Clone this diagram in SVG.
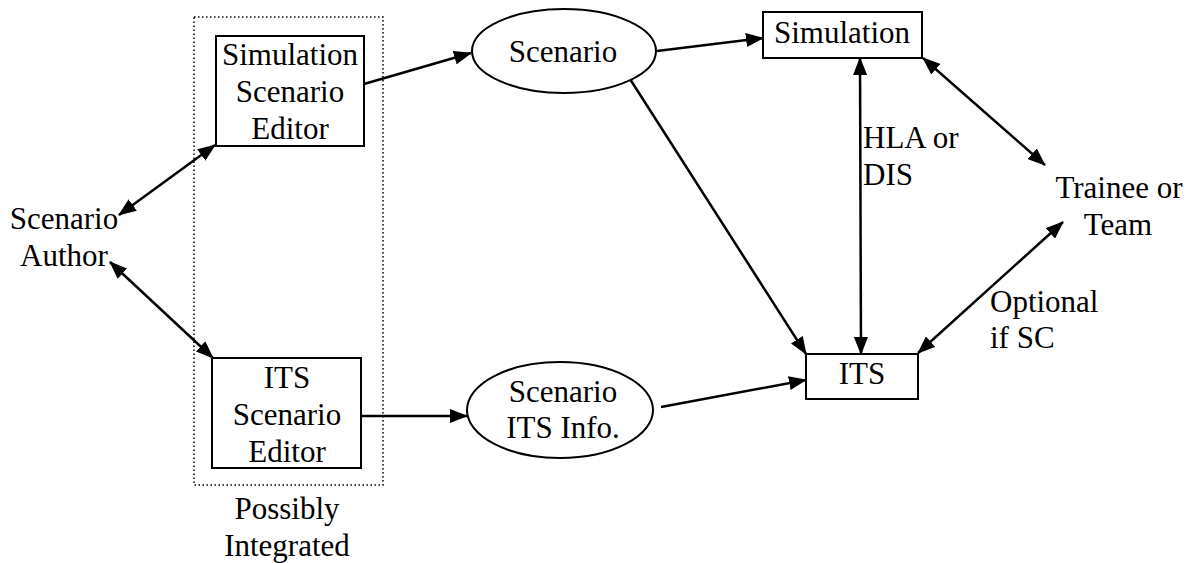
<svg xmlns="http://www.w3.org/2000/svg" width="1189" height="563" viewBox="0 0 1189 563">
  <style>
    text { font-family: "Liberation Serif", "Times New Roman", serif; font-size: 31px; fill: #000; text-anchor: middle; }
    .box { fill: #fff; stroke: #000; stroke-width: 2; }
    .oval { fill: #fff; stroke: #000; stroke-width: 2; }
    .group { fill: none; stroke: #000; stroke-width: 1.5; stroke-dasharray: 1.5 2.5; }
    .link { fill: none; stroke: #000; stroke-width: 2.5; }
    .left { text-anchor: start; }
  </style>
  <defs>
    <marker id="arrow" markerUnits="userSpaceOnUse" markerWidth="18" markerHeight="14" refX="17" refY="7" orient="auto-start-reverse" viewBox="0 0 18 14">
      <path d="M0,0 L18,7 L0,14 z" fill="#000"/>
    </marker>
  </defs>

  <rect id="integrated-group" class="group" x="194" y="17" width="189" height="468"/>

  <g id="connectors">
    <line class="link" x1="119" y1="215" x2="215" y2="145" marker-start="url(#arrow)" marker-end="url(#arrow)"/>
    <line class="link" x1="110" y1="262" x2="213" y2="358" marker-start="url(#arrow)" marker-end="url(#arrow)"/>
    <line class="link" x1="364" y1="84" x2="471" y2="53" marker-end="url(#arrow)"/>
    <line class="link" x1="361" y1="416" x2="467" y2="416" marker-end="url(#arrow)"/>
    <line class="link" x1="657" y1="51" x2="763" y2="38" marker-end="url(#arrow)"/>
    <line class="link" x1="630" y1="79" x2="806" y2="354" marker-end="url(#arrow)"/>
    <line class="link" x1="661" y1="407" x2="806" y2="380" marker-end="url(#arrow)"/>
    <line class="link" x1="860" y1="58" x2="861" y2="354" marker-start="url(#arrow)" marker-end="url(#arrow)"/>
    <line class="link" x1="923" y1="58" x2="1045" y2="165" marker-start="url(#arrow)" marker-end="url(#arrow)"/>
    <line class="link" x1="918" y1="353" x2="1063" y2="222" marker-start="url(#arrow)" marker-end="url(#arrow)"/>
  </g>

  <g id="scenario-author">
    <text x="64" y="229">Scenario</text>
    <text x="64" y="266">Author</text>
  </g>

  <g id="sim-scenario-editor">
    <rect class="box" x="216" y="36" width="148" height="110"/>
    <text x="290" y="65">Simulation</text>
    <text x="290" y="102">Scenario</text>
    <text x="290" y="139">Editor</text>
  </g>

  <g id="its-scenario-editor">
    <rect class="box" x="212" y="358" width="149" height="110"/>
    <text x="287" y="388">ITS</text>
    <text x="287" y="425">Scenario</text>
    <text x="287" y="462">Editor</text>
  </g>

  <g id="possibly-integrated">
    <text x="287" y="519">Possibly</text>
    <text x="287" y="556">Integrated</text>
  </g>

  <g id="scenario">
    <ellipse class="oval" cx="564" cy="51" rx="92" ry="42"/>
    <text x="563" y="62">Scenario</text>
  </g>

  <g id="scenario-its-info">
    <ellipse class="oval" cx="560" cy="410" rx="93" ry="48"/>
    <text x="563" y="402">Scenario</text>
    <text x="563" y="438">ITS Info.</text>
  </g>

  <g id="simulation">
    <rect class="box" x="763" y="12" width="159" height="46"/>
    <text x="842" y="43">Simulation</text>
  </g>

  <g id="its">
    <rect class="box" x="806" y="354" width="112" height="45"/>
    <text x="862" y="384">ITS</text>
  </g>

  <g id="hla-label">
    <text class="left" x="863" y="148">HLA or</text>
    <text class="left" x="863" y="185">DIS</text>
  </g>

  <g id="trainee">
    <text x="1119" y="198">Trainee or</text>
    <text x="1118" y="235">Team</text>
  </g>

  <g id="optional-label">
    <text class="left" x="990" y="312">Optional</text>
    <text class="left" x="990" y="348">if SC</text>
  </g>
</svg>
